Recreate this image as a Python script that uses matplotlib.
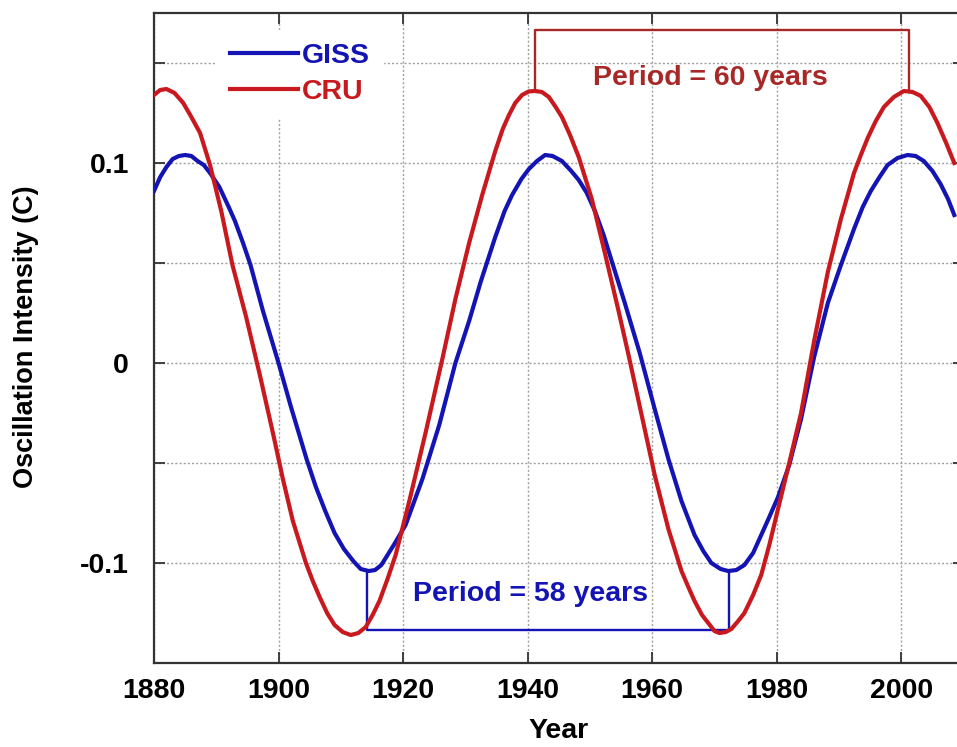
import matplotlib
matplotlib.use("Agg")
import matplotlib.pyplot as plt

# values
giss_years = [1880, 1881, 1882, 1883, 1884, 1885, 1886, 1887, 1888, 1889, 1890.5,
              1892, 1893, 1894.3, 1895.5, 1897.5, 1900, 1902, 1904.5, 1906, 1907.5,
              1909, 1910.5, 1912, 1913.2, 1914.5, 1915.5, 1916.5, 1917.5, 1918.5,
              1920.4, 1923.1, 1925.8, 1928.4, 1930.6, 1932.5, 1934.8, 1936.3, 1937.5,
              1939, 1940.2, 1941.5, 1942.8, 1944, 1945.5, 1947, 1948.2, 1949.5,
              1950.8, 1952.2, 1953.5, 1955.6, 1958, 1960.4, 1962.6, 1964.7, 1966.8,
              1968.2, 1969.5, 1971, 1972.2, 1973.5, 1974.8, 1976.2, 1977.5, 1978.8,
              1980.2, 1982, 1983.9, 1986, 1988.2, 1990.3, 1992.4, 1993.8, 1995.1,
              1996.5, 1997.8, 1999.4, 2001, 2002.3, 2003.6, 2005, 2006.3, 2007.5,
              2008.5]
giss_values = [0.086, 0.093, 0.098, 0.102, 0.1035, 0.104, 0.1035, 0.101, 0.099, 0.095,
               0.088, 0.078, 0.071, 0.060, 0.049, 0.026, 0.000, -0.022, -0.048, -0.062,
               -0.074, -0.085, -0.093, -0.099, -0.103, -0.104, -0.1035, -0.101, -0.096,
               -0.091, -0.081, -0.058, -0.031, 0.000, 0.021, 0.041, 0.063, 0.076, 0.084,
               0.092, 0.097, 0.101, 0.104, 0.1035, 0.101, 0.096, 0.0915, 0.085,
               0.076, 0.064, 0.051, 0.030, 0.005, -0.023, -0.048, -0.069, -0.086,
               -0.094, -0.100, -0.103, -0.104, -0.1035, -0.101, -0.095, -0.086, -0.077,
               -0.067, -0.051, -0.028, 0.003, 0.030, 0.049, 0.067, 0.078, 0.086,
               0.093, 0.099, 0.1025, 0.104, 0.1035, 0.101, 0.096, 0.0895, 0.082,
               0.074]

cru_years = [1880, 1881, 1882, 1883.3, 1884.7, 1886, 1887.4, 1889, 1890.8, 1892.6,
             1894.8, 1897, 1899.1, 1900.7, 1902.3, 1904.4, 1905.5, 1906.6, 1907.8,
             1909, 1910.3, 1911.6, 1912.8, 1914, 1915.1, 1916.2, 1917.5, 1918.8,
             1921, 1923.6, 1926.3, 1928.4, 1930.6, 1932.7, 1934.8, 1936, 1937, 1938,
             1939.1, 1940.2, 1941.2, 1942.3, 1943.4, 1944.5, 1945.5, 1946.8, 1948.2,
             1950.3, 1952.4, 1954.6, 1956.2, 1958.3, 1960.4, 1962.6, 1964.7, 1965.8,
             1966.8, 1968, 1969, 1970, 1970.8, 1971.8, 1972.7, 1973.8, 1974.8, 1976.2,
             1977.5, 1978.8, 1980.2, 1982, 1983.9, 1986, 1988.2, 1990.3, 1992.4,
             1993.5, 1994.6, 1995.9, 1997.2, 1998.8, 2000.4, 2001.8, 2003.1, 2004.5,
             2005.8, 2007.2, 2008.5]
cru_values = [0.134, 0.1365, 0.137, 0.135, 0.130, 0.123, 0.115, 0.099, 0.076, 0.049,
              0.023, -0.006, -0.035, -0.058, -0.079, -0.100, -0.109, -0.117, -0.125,
              -0.131, -0.1345, -0.136, -0.135, -0.132, -0.126, -0.119, -0.108, -0.096,
              -0.069, -0.035, 0.002, 0.032, 0.060, 0.084, 0.106, 0.117, 0.124, 0.130,
              0.134, 0.1358, 0.136, 0.1355, 0.133, 0.128, 0.123, 0.114, 0.103,
              0.082, 0.055, 0.026, 0.004, -0.026, -0.056, -0.083, -0.104, -0.112,
              -0.119, -0.126, -0.130, -0.134, -0.135, -0.1345, -0.133, -0.129, -0.125, -0.116,
              -0.106, -0.091, -0.073, -0.050, -0.025, 0.011, 0.0455, 0.072, 0.095,
              0.104, 0.1125, 0.121, 0.128, 0.133, 0.136, 0.1355, 0.1336, 0.128,
              0.120, 0.110, 0.100]

# period brackets: (start year, end year, curve level, bracket level)
cru_period = (1941.2, 2001.2, 0.1365, 0.1665)
giss_period = (1914.2, 1972.4, -0.1045, -0.1335)

x_ticks = [1880, 1900, 1920, 1940, 1960, 1980, 2000]
y_ticks = [-0.15, -0.1, -0.05, 0, 0.05, 0.1, 0.15]
y_tick_labels = ["", "-0.1", "", "0", "", "0.1", ""]

BLUE = "#1414b4"
RED = "#c8191e"
DARK_RED = "#a82828"

plt.rcParams["font.family"] = ["Liberation Sans", "DejaVu Sans"]
plt.rcParams["font.weight"] = "bold"

fig = plt.figure(figsize=(9.57, 7.47), dpi=100)
ax = fig.add_axes([0.1609, 0.1124, 0.846, 0.8702])

ax.plot(giss_years, giss_values, color=BLUE, lw=3.0, label="GISS", zorder=3,
        solid_joinstyle="round")
ax.plot(cru_years, cru_values, color=RED, lw=3.0, label="CRU", zorder=3,
        solid_joinstyle="round")

# CRU bracket
x0, x1, lo, hi = cru_period
ax.plot([x0, x0, x1, x1], [lo, hi, hi, lo], color=DARK_RED, lw=1.7, zorder=2)
ax.text((x0 + x1) / 2 - 1.8, 0.1425, "Period = 60 years", color=DARK_RED,
        fontsize=20.5, fontweight="bold", ha="center", va="center")

# GISS bracket
x0, x1, hi, lo = giss_period
ax.plot([x0, x0, x1, x1], [hi, lo, lo, hi], color=BLUE, lw=1.7, zorder=2)
ax.text((x0 + x1) / 2 - 2.8, -0.1155, "Period = 58 years", color=BLUE,
        fontsize=20.5, fontweight="bold", ha="center", va="center")

ax.set_xlim(1880, 2010)
ax.set_ylim(-0.15, 0.175)
ax.set_xticks(x_ticks)
ax.set_yticks(y_ticks)
ax.set_yticklabels(y_tick_labels)
ax.tick_params(direction="in", length=8, width=1.3, top=True, right=True,
               labelsize=20.5, pad=11, color="#333333")
ax.tick_params(axis="y", pad=18)
for lbl in ax.get_xticklabels() + ax.get_yticklabels():
    lbl.set_fontweight("bold")

ax.grid(True, linestyle=(0, (1.5, 1.5)), color="#a0a0a0", lw=1.0, zorder=0)
for s in ax.spines.values():
    s.set_color("#333333")
    s.set_linewidth(1.6)

ax.set_xlabel("Year", fontsize=20.5, fontweight="bold", labelpad=10)
fig.text(0.027, 0.549, "Oscillation Intensity (C)", rotation=90, fontsize=19.5,
         fontweight="bold", ha="center", va="center")

leg = ax.legend(loc="upper left", bbox_to_anchor=(0.06, 0.995), frameon=True,
                fontsize=20.5, handlelength=2.4, handletextpad=0.15,
                labelspacing=0.35, borderpad=0.45, fancybox=False)
leg.get_frame().set_edgecolor("white")
leg.get_frame().set_facecolor("white")
leg.get_frame().set_alpha(1.0)
for txt, col in zip(leg.get_texts(), [BLUE, RED]):
    txt.set_color(col)
    txt.set_fontweight("bold")

fig.savefig("out.png", dpi=100)
